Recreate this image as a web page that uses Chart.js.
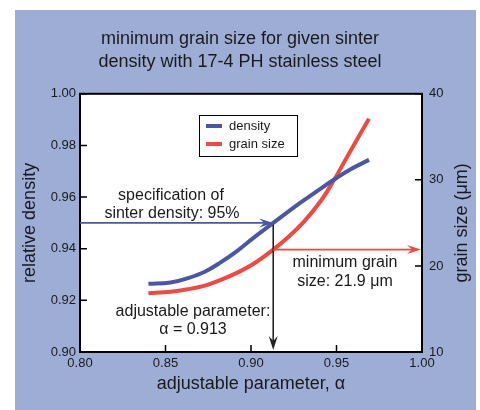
<!DOCTYPE html>
<html>
<head>
<meta charset="utf-8">
<script src="https://cdn.jsdelivr.net/npm/chart.js@4"></script>
<style>
  body { margin: 0; background: #fff; }
  canvas { display: block; }
</style>
</head>
<body>
<canvas id="sinterChart" width="480" height="410"></canvas>
<script>
// data
const alpha = [0.840, 0.853, 0.863, 0.873, 0.882, 0.892, 0.902, 0.913, 0.921, 0.931, 0.941, 0.948, 0.958, 0.969];
const density = [0.9264, 0.9269, 0.9286, 0.9311, 0.9346, 0.9392, 0.9445, 0.9500, 0.9540, 0.9588, 0.9634, 0.9665, 0.9707, 0.9744];
const grainSize = [16.83, 17.01, 17.29, 17.71, 18.35, 19.22, 20.31, 21.9, 23.22, 25.15, 27.6, 29.8, 33.3, 37.1];

const xTicks = [0.80, 0.85, 0.90, 0.95, 1.00];
const densityTicks = [0.90, 0.92, 0.94, 0.96, 0.98, 1.00];
const grainTicks = [10, 20, 30, 40];

// the reading shown by the arrows
const specDensity = 0.95;
const alphaPick = 0.913;
const minGrain = 21.9;

const FONT = '"Liberation Sans", Arial, Helvetica, sans-serif';
const BLUE = '#4b56a5';
const RED = '#f04a40';
const BG = '#9eadd6';

// stealth style arrow head
function arrow(ctx, x1, y1, x2, y2, color) {
  const ang = Math.atan2(y2 - y1, x2 - x1);
  const len = 14, half = 4.5;
  ctx.save();
  ctx.strokeStyle = color;
  ctx.fillStyle = color;
  ctx.lineWidth = 1.6;
  ctx.beginPath();
  ctx.moveTo(x1, y1);
  ctx.lineTo(x2 - Math.cos(ang) * 8, y2 - Math.sin(ang) * 8);
  ctx.stroke();
  ctx.translate(x2, y2);
  ctx.rotate(ang);
  ctx.beginPath();
  ctx.moveTo(0, 0);
  ctx.lineTo(-len, -half);
  ctx.lineTo(-len + 5, 0);
  ctx.lineTo(-len, half);
  ctx.closePath();
  ctx.fill();
  ctx.restore();
}

const backdrop = {
  id: 'backdrop',
  beforeDraw(chart) {
    const ctx = chart.ctx;
    const a = chart.chartArea;
    ctx.save();
    ctx.fillStyle = BG;
    ctx.fillRect(15, 10, 461, 400);
    ctx.fillStyle = '#fff';
    ctx.fillRect(a.left, a.top, a.right - a.left, a.bottom - a.top);
    ctx.restore();
  },
  afterDraw(chart) {
    const ctx = chart.ctx;
    const a = chart.chartArea;
    const sx = chart.scales.x, sy = chart.scales.y, sg = chart.scales.y2;

    ctx.save();
    // frame
    ctx.strokeStyle = '#000';
    ctx.lineWidth = 2;
    ctx.strokeRect(a.left, a.top, a.right - a.left, a.bottom - a.top);

    // inward tick marks
    ctx.lineWidth = 1.5;
    ctx.beginPath();
    sx.ticks.forEach(t => {
      const px = sx.getPixelForValue(t.value);
      ctx.moveTo(px, a.bottom);
      ctx.lineTo(px, a.bottom - 7);
    });
    sy.ticks.forEach(t => {
      const py = sy.getPixelForValue(t.value);
      ctx.moveTo(a.left, py);
      ctx.lineTo(a.left + 7, py);
    });
    sg.ticks.forEach(t => {
      const py = sg.getPixelForValue(t.value);
      ctx.moveTo(a.right, py);
      ctx.lineTo(a.right - 7, py);
    });
    ctx.stroke();

    // arrows
    const ax = sx.getPixelForValue(alphaPick);
    const dy = sy.getPixelForValue(specDensity);
    const gy = sg.getPixelForValue(minGrain);
    arrow(ctx, a.left, dy, ax, dy, BLUE);
    arrow(ctx, ax, dy + 2, ax, a.bottom - 2, '#222');
    arrow(ctx, ax, gy, a.right - 1, gy, RED);

    // notes
    ctx.fillStyle = '#1a1a1a';
    ctx.font = '16px ' + FONT;
    ctx.textAlign = 'center';
    ctx.textBaseline = 'middle';
    ctx.fillText('specification of', 171, 196);
    ctx.fillText('sinter density: 95%', 172, 214);
    ctx.fillText('adjustable parameter:', 193, 312);
    ctx.fillText('\u03b1 = 0.913', 193, 330);
    ctx.fillText('minimum grain', 345, 263);
    ctx.fillText('size: 21.9 \u03bcm', 345, 282);

    // right axis title reads bottom to top
    ctx.font = '18px ' + FONT;
    ctx.translate(462, (a.top + a.bottom) / 2);
    ctx.rotate(-Math.PI / 2);
    ctx.fillText('grain size (\u03bcm)', 0, 0);
    ctx.restore();

    // legend
    ctx.save();
    ctx.fillStyle = '#fff';
    ctx.fillRect(199, 115, 98, 41);
    ctx.strokeStyle = '#000';
    ctx.lineWidth = 1;
    ctx.strokeRect(199.5, 115.5, 98, 41);
    ctx.font = '13px ' + FONT;
    ctx.textBaseline = 'middle';
    chart.data.datasets.forEach((ds, i) => {
      const y = 126 + i * 18;
      ctx.strokeStyle = ds.borderColor;
      ctx.lineWidth = 4;
      ctx.beginPath();
      ctx.moveTo(206, y);
      ctx.lineTo(222, y);
      ctx.stroke();
      ctx.fillStyle = '#1a1a1a';
      ctx.fillText(ds.label, 229, y);
    });
    ctx.restore();
  }
};

const tickFont = { family: FONT, size: 13 };

new Chart(document.getElementById('sinterChart'), {
  type: 'line',
  data: {
    datasets: [
      {
        label: 'density',
        data: alpha.map((a, i) => ({ x: a, y: density[i] })),
        borderColor: BLUE,
        borderWidth: 4,
        pointRadius: 0,
        tension: 0.4,
        yAxisID: 'y',
      },
      {
        label: 'grain size',
        data: alpha.map((a, i) => ({ x: a, y: grainSize[i] })),
        borderColor: RED,
        borderWidth: 4,
        pointRadius: 0,
        tension: 0.4,
        yAxisID: 'y2',
      },
    ],
  },
  options: {
    responsive: false,
    animation: false,
    devicePixelRatio: 1,
    layout: { padding: 0 },
    plugins: {
      legend: { display: false },
      tooltip: { enabled: false },
      title: {
        display: true,
        text: ['minimum grain size for given sinter', 'density with 17-4 PH stainless steel'],
        color: '#1a1a1a',
        font: { family: FONT, size: 18, weight: 'normal', lineHeight: 1.3 },
        padding: { top: 27, bottom: 20 },
      },
    },
    scales: {
      x: {
        type: 'linear',
        min: 0.8,
        max: 1.0,
        afterBuildTicks: s => { s.ticks = xTicks.map(v => ({ value: v })); },
        afterFit: s => { s.height = 58; },
        grid: { display: false, drawTicks: false },
        border: { display: false },
        ticks: {
          padding: 4,
          color: '#1a1a1a',
          font: tickFont,
          autoSkip: false,
          maxRotation: 0,
          callback: v => Number(v).toFixed(2),
        },
        title: {
          display: true,
          text: 'adjustable parameter, \u03b1',
          color: '#1a1a1a',
          font: { family: FONT, size: 18 },
          padding: { top: 0, bottom: 15 },
        },
      },
      y: {
        position: 'left',
        min: 0.9,
        max: 1.0,
        afterBuildTicks: s => { s.ticks = densityTicks.map(v => ({ value: v })); },
        afterFit: s => { s.width = 80; },
        grid: { display: false, drawTicks: false },
        border: { display: false },
        ticks: {
          padding: 4,
          color: '#1a1a1a',
          font: tickFont,
          autoSkip: false,
          callback: v => Number(v).toFixed(2),
        },
        title: {
          display: true,
          text: 'relative density',
          color: '#1a1a1a',
          font: { family: FONT, size: 18 },
          padding: { top: 19, bottom: 0 },
        },
      },
      y2: {
        position: 'right',
        min: 10,
        max: 40,
        afterBuildTicks: s => { s.ticks = grainTicks.map(v => ({ value: v })); },
        afterFit: s => { s.width = 58; },
        grid: { display: false, drawTicks: false },
        border: { display: false },
        ticks: {
          padding: 7,
          color: '#1a1a1a',
          font: tickFont,
          autoSkip: false,
        },
      },
    },
  },
  plugins: [backdrop],
});
</script>
</body>
</html>
